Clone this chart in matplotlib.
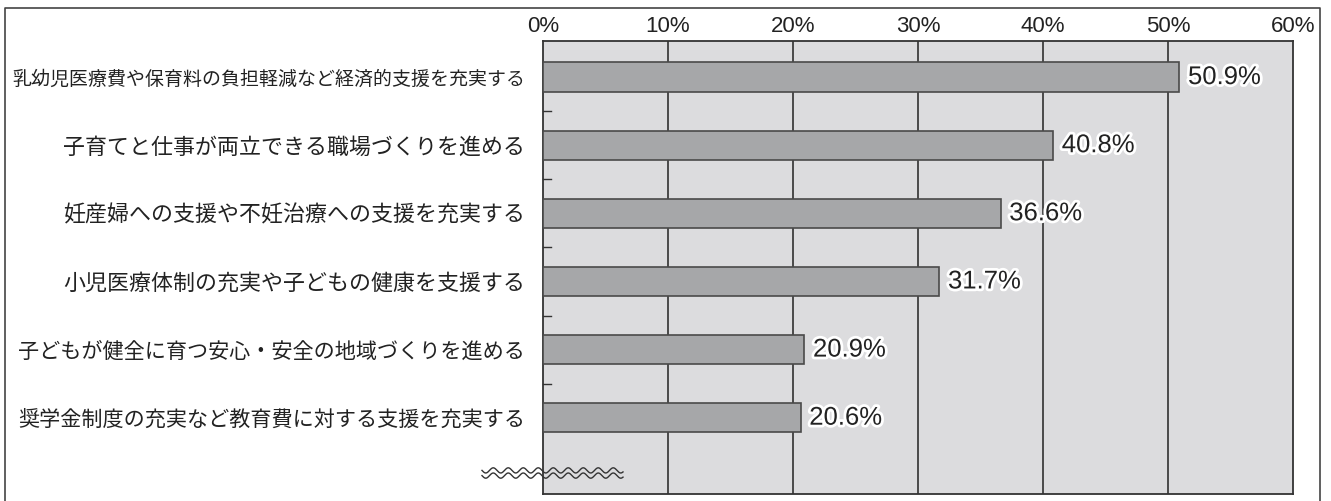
import numpy as np
import matplotlib
matplotlib.use('Agg')
import matplotlib.pyplot as plt
import matplotlib.patheffects as pe

# ==============================
# DATA
# ==============================

categories = [
    "乳幼児医療費や保育料の負担軽減など経済的支援を充実する",
    "子育てと仕事が両立できる職場づくりを進める",
    "妊産婦への支援や不妊治療への支援を充実する",
    "小児医療体制の充実や子どもの健康を支援する",
    "子どもが健全に育つ安心・安全の地域づくりを進める",
    "奨学金制度の充実など教育費に対する支援を充実する",
]
values = [50.9, 40.8, 36.6, 31.7, 20.9, 20.6]
x_ticks = [0, 10, 20, 30, 40, 50, 60]

# long labels are squeezed in the original, so they get a smaller size
label_sizes = [13.65, 15.8, 15.8, 15.8, 15.2, 15.2]

JP_FONT = ['Noto Sans CJK JP', 'DejaVu Sans']
NUM_FONT = ['Liberation Sans', 'DejaVu Sans']

BG = "#dcdcde"
BAR = "#a6a7a9"
EDGE = "#4a4a4a"

W, H = 1331, 501

# ==============================
# FIGURE
# ==============================

fig = plt.figure(figsize=(W / 100, H / 100), dpi=100)
ax = fig.add_axes([543 / W, 1 - 494 / H, (1293 - 543) / W, (494 - 41) / H])

# outer frame (open at the bottom)
fx = np.array([5, 5, 1320, 1320])
fy = np.array([H + 5, 8, 8, H + 5])
fig.add_artist(plt.Line2D(fx / W, 1 - fy / H, transform=fig.transFigure,
                          color="#444444", linewidth=1.2))

ax.set_facecolor(BG)
y = np.arange(len(categories))
ax.barh(y, values, height=0.43, color=BAR, edgecolor=EDGE, linewidth=1.2, zorder=3)

ax.set_xlim(0, 60)
ax.set_ylim(6.12, -0.53)

for t in x_ticks[1:-1]:
    ax.axvline(t, color="#222222", linewidth=1.1, zorder=1)

ax.xaxis.tick_top()
ax.set_xticks(x_ticks)
ax.set_xticklabels([f"{t}%" for t in x_ticks], family=NUM_FONT, fontsize=16, color="#222222")
ax.tick_params(axis="x", length=0, pad=3)

ax.set_yticks(y)
ax.set_yticklabels(categories, family=JP_FONT, color="#222222")
for lab, fs in zip(ax.get_yticklabels(), label_sizes):
    lab.set_fontsize(fs)
ax.tick_params(axis="y", length=0, pad=13)

# small separators on left edge
for s in y[:-1] + 0.5:
    ax.plot([0, 0.6], [s, s], color="#333333", linewidth=1.0, zorder=4, clip_on=False)

for sp in ax.spines.values():
    sp.set_color("#333333")
    sp.set_linewidth(1.3)

# value labels
for yi, v in zip(y, values):
    ax.text(v + 0.7, yi, f"{v:.1f}%", va="center", ha="left", fontsize=18.5,
            family=NUM_FONT, color="#222222", zorder=5,
            path_effects=[pe.withStroke(linewidth=4, foreground="white")])

# wavy break mark
xw = np.linspace(482, 623, 500)
for off in (-2.6, 2.6):
    yw = 473 + off + 2.6 * np.sin((xw - 482) / 15.0 * 2 * np.pi)
    fig.add_artist(plt.Line2D(xw / W, 1 - yw / H, transform=fig.transFigure,
                              color="#333333", linewidth=1.0, zorder=10))

plt.savefig("out.png", dpi=100)
